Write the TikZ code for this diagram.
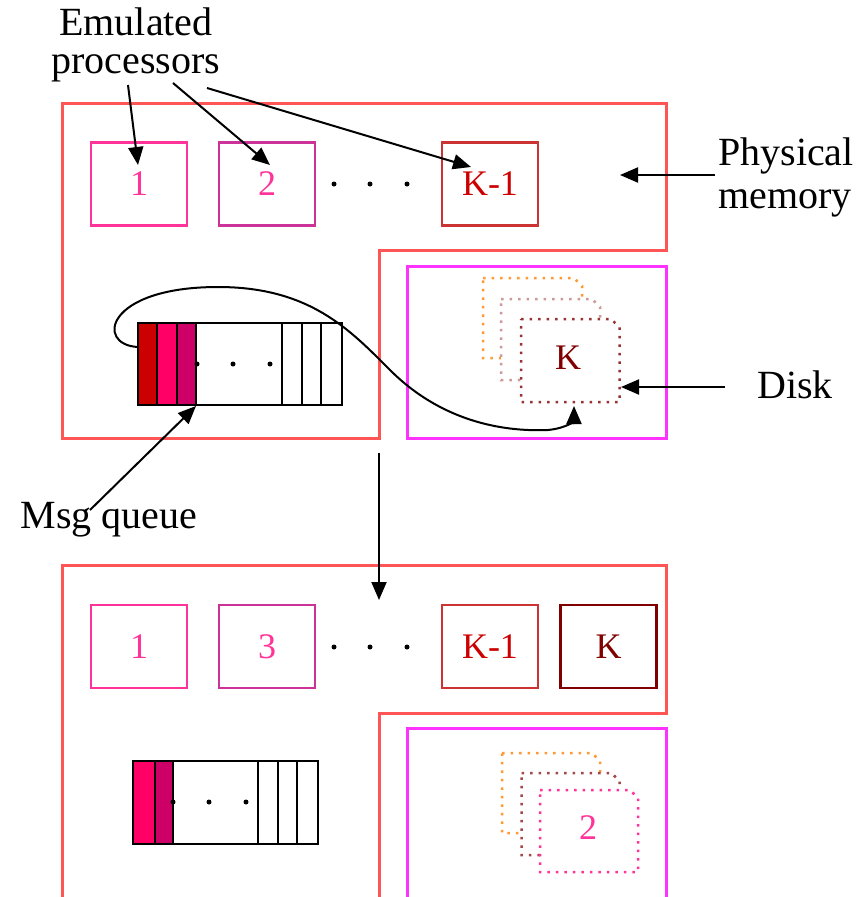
\documentclass[tikz,border=0pt]{standalone}
\usepackage{fontspec}
\setmainfont{LiberationSerif}[Extension=.ttf, UprightFont=*-Regular, BoldFont=*-Bold, ItalicFont=*-Italic, BoldItalicFont=*-BoldItalic]
\usetikzlibrary{arrows.meta}

\definecolor{memred}{RGB}{255,85,85}
\definecolor{diskpink}{RGB}{255,51,255}
\definecolor{hotpink}{RGB}{255,51,153}
\definecolor{plum}{RGB}{204,51,153}
\definecolor{brick}{RGB}{204,51,51}
\definecolor{maroon}{RGB}{128,0,0}
\definecolor{qred}{RGB}{204,0,0}
\definecolor{qpink}{RGB}{255,0,102}
\definecolor{qplum}{RGB}{204,0,102}
\definecolor{pgorange}{RGB}{255,153,51}
\definecolor{pgrose}{RGB}{204,153,153}
\definecolor{pgbrown}{RGB}{153,51,51}

\begin{document}
\begin{tikzpicture}[x=1pt,y=-1pt,
  lbl/.style={font=\rmfamily\fontsize{40}{44}\selectfont, inner sep=0pt},
  procbox/.style={draw, line width=2.5pt, minimum width=96pt, minimum height=83pt, inner sep=0pt, font=\rmfamily\fontsize{36}{40}\selectfont},
  ptr/.style={black, line width=2pt, -{Triangle[length=18pt, width=15pt]}},
  page/.style={fill=white, line width=2.5pt, dash pattern=on 2.5pt off 6pt},
  qframe/.style={draw=black, line width=2pt}]
\useasboundingbox (0,0) rectangle (865,897);

% top: physical memory and disk
\draw[memred, line width=3pt] (62,103) -- (666,103) -- (666,250) -- (379.5,250) -- (379.5,438) -- (62,438) -- cycle;
\draw[diskpink, line width=3pt] (407,266) rectangle (666,438);

\node[procbox, draw=hotpink, text=hotpink] (tp1) at (139,184) {1};
\node[procbox, draw=plum, text=hotpink] (tp2) at (267,184) {2};
\node[procbox, draw=brick, text=qred] (tpk1) at (490,184) {K-1};
\fill (334,184) circle (2.5) (370,184) circle (2.5) (407,184) circle (2.5);

% message queue
\node[qframe, minimum width=203.5pt, minimum height=82pt, inner sep=0pt] (tq) at (239.75,364) {};
\filldraw[fill=qred, qframe] (138,323) rectangle (157,405);
\filldraw[fill=qpink, qframe] (157,323) rectangle (177,405);
\filldraw[fill=qplum, qframe] (177,323) rectangle (196,405);
\draw[qframe] (282,323) -- (282,405) (302,323) -- (302,405) (321,323) -- (321,405);
\fill (197,364) circle (2.5) (233,364) circle (2.5) (270,364) circle (2.5);

% swapped pages
\filldraw[page, draw=pgorange] (483,278) -- (574,278) -- (582,286) -- (582,358) -- (483,358) -- cycle;
\filldraw[page, draw=pgrose] (501,299) -- (592,299) -- (600,307) -- (600,380) -- (501,380) -- cycle;
\filldraw[page, draw=pgbrown] (521,319) -- (611,319) -- (619.5,327) -- (619.5,402) -- (521,402) -- cycle;
\node[font=\rmfamily\fontsize{36}{40}\selectfont, text=maroon, inner sep=0pt] (tk) at (568,358) {K};

% bottom: physical memory and disk
\draw[memred, line width=3pt] (62,905) -- (62,565) -- (666,565) -- (666,713) -- (379.5,713) -- (379.5,905);
\draw[diskpink, line width=3pt] (407,905) -- (407,728) -- (666,728) -- (666,905);

\node[procbox, draw=hotpink, text=hotpink] (bp1) at (139,646.5) {1};
\node[procbox, draw=plum, text=hotpink] (bp3) at (267,646.5) {3};
\node[procbox, draw=brick, text=qred] (bpk1) at (490,646.5) {K-1};
\node[procbox, draw=maroon, text=maroon] (bpk) at (608.5,646.5) {K};
\fill (334,647) circle (2.5) (370,647) circle (2.5) (407,647) circle (2.5);

\node[qframe, minimum width=185pt, minimum height=83pt, inner sep=0pt] (bq) at (225.5,802.5) {};
\filldraw[fill=qpink, qframe] (133,761) rectangle (155,844);
\filldraw[fill=qplum, qframe] (155,761) rectangle (173,844);
\draw[qframe] (258,761) -- (258,844) (277.5,761) -- (277.5,844) (297,761) -- (297,844);
\fill (173,802) circle (2.5) (209,802) circle (2.5) (246,802) circle (2.5);

\filldraw[page, draw=pgorange] (502,753) -- (592,753) -- (600,761) -- (600,833) -- (502,833) -- cycle;
\filldraw[page, draw=pgbrown!80!pgrose] (521.5,773) -- (611.5,773) -- (619.5,781) -- (619.5,855) -- (521.5,855) -- cycle;
\filldraw[page, draw=hotpink] (540,790) -- (630,790) -- (638,798) -- (638,872) -- (540,872) -- cycle;
\node[font=\rmfamily\fontsize{36}{40}\selectfont, text=hotpink, inner sep=0pt] (b2) at (588,828) {2};

% labels
\node[lbl, anchor=base] (emu) at (136,35) {Emulated};
\node[lbl, anchor=base] (procs) at (136,73) {processors};
\node[lbl, anchor=base] (phys) at (786,165) {Physical};
\node[lbl, anchor=base] (mem) at (785,208) {memory};
\node[lbl, anchor=base] (disk) at (795,398) {Disk};
\node[lbl, anchor=base] (msg) at (109,528) {Msg queue};

% arrows
\coordinate (e1) at (128,85);
\coordinate (e2) at (173,83);
\coordinate (e3) at (207,88);
\coordinate (pm) at (715,175);
\coordinate (dk) at (725,387);
\coordinate (mq) at (90,510);
\coordinate (down) at (379,453);
\coordinate (downtip) at (379,600);
\draw[ptr] (e1) -- ([xshift=-1pt,yshift=19pt]tp1.center);
\draw[ptr] (e2) -- ([xshift=3pt,yshift=19pt]tp2.center);
\draw[ptr] (e3) -- ([xshift=-19pt,yshift=17pt]tpk1.center);
\draw[ptr] (pm) -- (620,175);
\draw[ptr] (dk) -- (621,387);
\draw[ptr] (mq) -- (tq.south -| 196,0);
\draw[ptr] (down) -- (downtip);
\coordinate (qstart) at (138,347);
\coordinate (pgtip) at (574,406);
\draw[ptr] (qstart) .. controls (95,345) and (105,287) .. (218,287)
  .. controls (310,287) and (350,330) .. (390,370)
  .. controls (440,420) and (500,432) .. (548,430)
  .. controls (568,428) and (574,420) .. (pgtip);
\end{tikzpicture}
\end{document}
